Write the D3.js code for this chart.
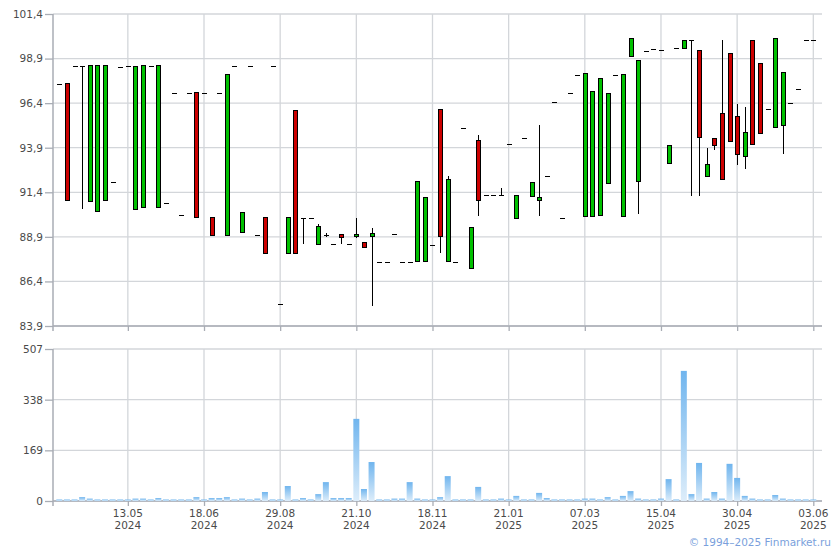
<!DOCTYPE html>
<html><head><meta charset="utf-8">
<script src="https://cdn.jsdelivr.net/npm/d3@7/dist/d3.min.js"></script>
<style>
html,body{margin:0;padding:0;background:#fff;}
svg{display:block;font-family:"DejaVu Sans",Verdana,sans-serif;}
</style></head>
<body>
<svg id="chart" width="840" height="550"></svg>
<script>
// ---- data (100 trading sessions, ticks every 10th session) ----
const openP = [97.48,97.48,98.49,98.49,90.90,90.34,90.96,92.00,98.43,98.49,
  90.46,90.52,98.49,90.57,90.81,96.97,90.14,96.97,96.97,96.97,
  89.97,96.97,88.97,98.49,89.13,98.49,89.02,89.97,98.49,85.15,
  87.99,95.98,89.97,89.97,88.49,89.02,88.51,89.02,88.51,88.90,
  88.57,88.94,87.50,87.50,89.07,87.50,87.50,87.50,87.50,88.46,
  96.04,87.50,87.50,95.01,87.11,94.28,91.26,91.26,91.26,94.12,
  89.95,94.45,91.18,90.96,92.34,96.47,89.97,96.97,97.98,90.03,
  90.03,90.08,91.89,97.98,90.03,98.99,92.00,99.33,99.44,99.38,
  93.00,99.49,99.49,99.94,99.38,92.27,94.40,95.80,99.16,95.63,
  93.39,99.94,98.65,96.08,95.01,95.12,96.41,97.20,99.94,99.94];
const highP = [97.48,97.48,98.49,98.49,98.49,98.49,98.49,92.00,98.43,98.49,
  98.43,98.49,98.49,98.49,90.81,96.97,90.14,96.97,96.97,96.97,
  89.97,96.97,97.98,98.49,90.25,98.49,89.02,89.97,98.49,85.15,
  89.97,95.98,89.97,89.97,89.60,89.13,88.51,89.02,88.51,89.97,
  88.57,89.37,87.50,87.50,89.07,87.50,87.50,92.00,91.09,88.46,
  96.04,92.34,87.50,95.01,89.41,94.64,91.26,91.26,91.65,94.12,
  91.20,94.45,91.93,95.18,92.34,96.47,89.97,96.97,97.98,98.04,
  97.03,97.81,96.92,97.98,97.98,100.00,98.77,99.33,99.44,99.38,
  94.00,99.49,99.94,99.94,99.38,93.89,94.40,99.94,99.16,96.36,
  96.19,99.94,98.65,96.08,100.00,98.11,96.41,97.20,99.94,99.94];
const lowP = [97.48,90.96,98.49,90.44,90.90,90.34,90.96,92.00,98.43,98.49,
  90.46,90.52,98.49,90.57,90.81,96.97,90.14,96.97,90.00,96.97,
  88.97,96.97,88.97,98.49,89.13,98.49,89.02,87.99,98.49,85.15,
  87.99,87.99,88.48,89.97,88.49,88.90,88.51,88.51,88.51,88.81,
  88.33,85.02,87.50,87.50,89.07,87.50,87.50,87.50,87.50,88.46,
  87.99,87.50,87.50,95.01,87.11,90.06,91.26,91.26,91.26,94.12,
  89.95,94.45,91.18,90.06,92.34,96.47,89.97,96.97,97.98,90.03,
  90.03,90.08,91.89,97.98,90.03,98.99,90.19,99.33,99.44,99.38,
  93.00,99.49,99.49,91.18,91.18,92.27,93.76,92.10,94.20,92.94,
  92.73,94.08,94.68,96.08,95.01,93.54,96.41,97.20,99.94,99.94];
const closeP = [97.48,90.96,98.49,98.49,98.49,98.49,98.49,92.00,98.43,98.49,
  98.43,98.49,98.49,98.49,90.81,96.97,90.14,96.97,90.00,96.97,
  88.97,96.97,97.98,98.49,90.25,98.49,89.02,87.99,98.49,85.15,
  89.97,87.99,89.97,89.97,89.47,89.02,88.51,88.87,88.51,89.02,
  88.33,89.07,87.50,87.50,89.07,87.50,87.50,92.00,91.09,88.46,
  88.94,92.10,87.50,95.01,89.41,90.92,91.26,91.26,91.26,94.12,
  91.20,94.45,91.93,91.09,92.34,96.47,89.97,96.97,97.98,98.04,
  97.03,97.81,96.92,97.98,97.98,100.00,98.77,99.33,99.44,99.38,
  94.00,99.49,99.94,99.94,94.45,92.96,94.00,92.10,94.27,93.50,
  94.75,94.08,94.68,96.08,100.00,98.11,96.41,97.20,99.94,99.94];
const volume = [5,5,5,13,8,5,5,5,5,5,
  8,8,5,10,5,5,5,5,13,5,
  10,10,13,5,8,5,8,30,5,5,
  50,5,10,5,23,63,10,10,10,274,
  40,130,5,5,8,8,63,8,5,5,
  13,83,5,5,5,47,5,5,8,5,
  17,5,5,27,10,5,5,5,5,8,
  8,5,13,5,17,33,8,5,5,8,
  73,5,434,23,127,8,30,8,124,77,
  17,8,5,5,20,8,5,5,5,5];
const tickDays  = ["13.05","18.06","29.08","21.10","18.11","21.01","07.03","15.04","30.04","03.06"];
const tickYears = ["2024","2024","2024","2024","2024","2025","2025","2025","2025","2025"];
const priceTicks = [83.9,86.4,88.9,91.4,93.9,96.4,98.9,101.4];
const volumeTicks = [0,169,338,507];

// ---- layout ----
const svg = d3.select("#chart");
const L = 53, R = 822;
const pTop = 14, pBot = 326, vTop = 349, vBot = 501;
const n = openP.length;
const idx = d3.range(n);
const x = d3.scalePoint().domain(idx).range([59.3, 813.3]);
const tickIdx = tickDays.map((d, k) => n - 1 - (tickDays.length - 1 - k) * 10);

const y = d3.scaleLinear().domain([83.9, 101.4]).range([pBot, pTop]);
const yv = d3.scaleLinear().domain([0, 507]).range([vBot, vTop]);

const gridC = "#d3d6da", axisC = "#a9adb5", txtC = "#4a4a4a";
const fmt = v => d3.format(".1f")(v).replace(".", ",");

const defs = svg.append("defs");
const grad = defs.append("linearGradient").attr("id", "vg")
  .attr("x1", 0).attr("y1", 0).attr("x2", 0).attr("y2", 1);
grad.append("stop").attr("offset", 0).attr("stop-color", "#70b5ee");
grad.append("stop").attr("offset", 1).attr("stop-color", "#ddedfa");

function panelGrid(top, bot, yScale, ticks, fmtF) {
  const g = svg.append("g");
  g.selectAll("line.h").data(ticks).join("line")
    .attr("x1", L).attr("x2", R)
    .attr("y1", d => yScale(d)).attr("y2", d => yScale(d))
    .attr("stroke", gridC).attr("stroke-width", 1.3);
  g.selectAll("line.v").data(tickIdx).join("line")
    .attr("x1", d => x(d)).attr("x2", d => x(d))
    .attr("y1", top).attr("y2", bot)
    .attr("stroke", gridC).attr("stroke-width", 1.3);
  const ax = d3.axisLeft(yScale).tickValues(ticks).tickSize(8).tickPadding(2).tickFormat(fmtF);
  const ag = g.append("g").attr("transform", `translate(${L},0)`).call(ax);
  ag.select(".domain").remove();
  ag.selectAll(".tick line").attr("stroke", axisC).attr("stroke-width", 1.3);
  ag.selectAll(".tick text").attr("fill", txtC).attr("font-size", 10.5)
    .attr("font-family", "DejaVu Sans, Verdana, sans-serif");
  g.append("line").attr("x1", L).attr("x2", L).attr("y1", top).attr("y2", bot + 5)
    .attr("stroke", axisC).attr("stroke-width", 1.5);
  const bx = d3.axisBottom(x).tickValues(tickIdx).tickSize(5).tickFormat("");
  const bg = g.append("g").attr("transform", `translate(0,${bot})`).call(bx);
  bg.select(".domain").remove();
  bg.selectAll(".tick line").attr("stroke", axisC).attr("stroke-width", 1.3);
  g.append("line").attr("x1", L).attr("x2", R).attr("y1", bot).attr("y2", bot)
    .attr("stroke", axisC).attr("stroke-width", 1.5);
  return g;
}

panelGrid(pTop, pBot, y, priceTicks, fmt);
panelGrid(vTop, vBot, yv, volumeTicks, d3.format("d"));

// x labels
const xl = svg.append("g").attr("font-size", 10.5).attr("fill", txtC).attr("text-anchor", "middle");
xl.selectAll("text.d").data(tickIdx).join("text")
  .attr("x", d => x(d)).attr("y", 517).text((d, k) => tickDays[k]);
xl.selectAll("text.yr").data(tickIdx).join("text")
  .attr("x", d => x(d)).attr("y", 529).text((d, k) => tickYears[k]);

// volume bars
svg.append("g").selectAll("rect").data(idx).join("rect")
  .attr("x", i => x(i) - 3).attr("width", 6)
  .attr("y", i => yv(volume[i])).attr("height", i => vBot - yv(volume[i]))
  .attr("fill", "url(#vg)");

// candles
const cg = svg.append("g").attr("shape-rendering", "crispEdges");
idx.forEach(i => {
  const o = openP[i], h = highP[i], l = lowP[i], c = closeP[i];
  const cx = Math.round(x(i)) + 0.5;
  if (h !== l) {
    cg.append("line").attr("x1", cx).attr("x2", cx)
      .attr("y1", y(h)).attr("y2", y(l)).attr("stroke", "#000").attr("stroke-width", 1);
  }
  if (o === c) {
    cg.append("line").attr("x1", cx - 2.5).attr("x2", cx + 2.5)
      .attr("y1", Math.round(y(o)) + 0.5).attr("y2", Math.round(y(o)) + 0.5)
      .attr("stroke", "#000").attr("stroke-width", 1.4);
  } else {
    const top = y(Math.max(o, c)), bot = y(Math.min(o, c));
    cg.append("rect").attr("x", cx - 2).attr("width", 4)
      .attr("y", top).attr("height", Math.max(1, bot - top))
      .attr("fill", c > o ? "#00c000" : "#cc0000")
      .attr("stroke", "#000").attr("stroke-width", 1);
  }
});

// copyright
svg.append("text").attr("x", 831).attr("y", 546).attr("text-anchor", "end")
  .attr("font-size", 10.5).attr("fill", "#7a9fdc").text("© 1994–2025 Finmarket.ru");
</script>
</body></html>
